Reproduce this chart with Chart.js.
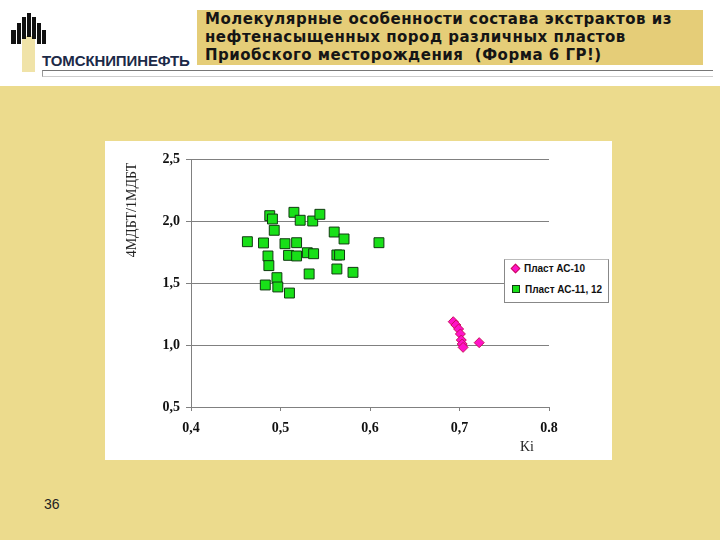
<!DOCTYPE html>
<html>
<head>
<meta charset="utf-8">
<script src="https://cdn.jsdelivr.net/npm/chart.js@4/dist/chart.umd.min.js"></script>
<style>
  body { margin: 0; width: 720px; height: 540px; background: #ecdb8d; position: relative; overflow: hidden; font-family: "Liberation Sans", Arial, sans-serif; }
  #header { position: absolute; left: 0; top: 0; width: 720px; height: 86px; background: #fff; }
  .bar { position: absolute; background: #111; }
  #logoText { position: absolute; left: 42px; top: 52px; font-size: 15px; font-weight: bold; color: #1c2a48; letter-spacing: -0.1px; }
  #rule { position: absolute; left: 42px; top: 70px; width: 670px; height: 5px; border-top: 1px solid #777; border-left: 1px solid #999; border-bottom: 1px solid #ccc; }
  #title { position: absolute; left: 197px; top: 10px; width: 506px; height: 55px; background: #e5cd78; }
  #title div { position: absolute; left: 8px; font-family: "DejaVu Sans", sans-serif; font-size: 15px; font-weight: bold; color: #151515; white-space: nowrap; letter-spacing: 0.5px; }
  #box { position: absolute; left: 105px; top: 141px; width: 507px; height: 319px; background: #fff; }
  #legend { position: absolute; left: 504px; top: 259px; width: 103px; height: 42px; background: #fff; border: 1px solid #888; border-top-color: #bbb; font-size: 10px; font-weight: bold; color: #111; }
  .item { position: absolute; left: 7px; white-space: nowrap; }
  .mk { display: inline-block; width: 6px; height: 6px; margin-right: 5px; vertical-align: 0px; }
  #page { position: absolute; left: 44px; top: 496px; font-size: 14px; color: #222; }
</style>
</head>
<body>
<div id="header">
  <div style="position:absolute;left:22px;top:36px;width:13px;height:36px;background:#f0e3a8"></div>
  <div class="bar" style="left:11px;top:30px;width:5px;height:14px"></div>
  <div class="bar" style="left:17px;top:23px;width:4px;height:21px"></div>
  <div class="bar" style="left:22px;top:17px;width:4px;height:22px"></div>
  <div class="bar" style="left:27px;top:13px;width:4px;height:24px"></div>
  <div class="bar" style="left:32px;top:17px;width:4px;height:22px"></div>
  <div class="bar" style="left:37px;top:23px;width:4px;height:21px"></div>
  <div class="bar" style="left:42px;top:30px;width:4px;height:14px"></div>
  <div id="logoText">ТОМСКНИПИНЕФТЬ</div>
  <div id="rule"></div>
  <div id="title">
    <div style="top:0px">Молекулярные особенности состава экстрактов из</div>
    <div style="top:18px">нефтенасыщенных пород различных пластов</div>
    <div style="top:36px">Приобского месторождения&nbsp; (Форма 6 ГР!)</div>
  </div>
</div>
<div id="box"><canvas id="chart" width="507" height="319"></canvas></div>
<div id="legend"></div>
<div id="page">36</div>
<script>
// Пласт АС-10 (Ki, 4МДБТ/1МДБТ)
const ac10X = [0.693, 0.696, 0.699, 0.701, 0.702, 0.703, 0.704, 0.722];
const ac10Y = [1.188, 1.161, 1.129, 1.089, 1.040, 1.008, 0.981, 1.019];

// Пласт АС-11, 12
const ac1112X = [0.488, 0.491, 0.515, 0.522, 0.536, 0.544, 0.493, 0.560, 0.571, 0.463,
                 0.481, 0.505, 0.518, 0.610, 0.486, 0.509, 0.518, 0.530, 0.537, 0.563,
                 0.566, 0.487, 0.563, 0.581, 0.532, 0.496, 0.483, 0.497, 0.510];
const ac1112Y = [2.043, 2.016, 2.070, 2.006, 2.000, 2.054, 1.925, 1.911, 1.855, 1.833,
                 1.823, 1.817, 1.825, 1.825, 1.718, 1.723, 1.718, 1.744, 1.736, 1.726,
                 1.726, 1.640, 1.613, 1.586, 1.573, 1.543, 1.484, 1.468, 1.419];

const seriesNames = ['Пласт АС-10', 'Пласт АС-11, 12'];
const xTickLabels = ['0,4', '0,5', '0,6', '0,7', '0.8'];
const yTickLabels = ['0,5', '1,0', '1,5', '2,0', '2,5'];
const xTitle = 'Ki';
const yTitle = '4МДБТ/1МДБТ';

function toPoints(xs, ys) {
  return xs.map((x, i) => ({ x: x, y: ys[i] }));
}

const axisTitles = {
  id: 'axisTitles',
  afterDraw(chart) {
    const ctx = chart.ctx;
    const a = chart.chartArea;
    ctx.save();
    ctx.fillStyle = '#222';
    ctx.font = '14px "Liberation Serif", "Times New Roman", serif';
    ctx.textAlign = 'center';
    ctx.textBaseline = 'middle';
    ctx.fillText(xTitle, a.right - 22, a.bottom + 40);
    ctx.translate(a.left - 59, a.top + 51);
    ctx.rotate(-Math.PI / 2);
    ctx.fillText(yTitle, 0, 0);
    ctx.restore();
  }
};

const tickFont = { family: '"Liberation Serif", "Times New Roman", serif', size: 14, weight: 'bold' };

const chart = new Chart(document.getElementById('chart').getContext('2d'), {
  type: 'scatter',
  data: {
    datasets: [{
      label: seriesNames[0],
      data: toPoints(ac10X, ac10Y),
      pointStyle: 'rectRot',
      pointRadius: 5,
      backgroundColor: '#ff12c8',
      borderColor: '#c8105a',
      borderWidth: 1
    }, {
      label: seriesNames[1],
      data: toPoints(ac1112X, ac1112Y),
      pointStyle: 'rect',
      pointRadius: 7,
      backgroundColor: '#18e018',
      borderColor: '#103a10',
      borderWidth: 1
    }]
  },
  options: {
    responsive: false,
    animation: false,
    layout: { padding: { top: 18, right: 63, left: 0, bottom: 0 } },
    plugins: { legend: { display: false }, tooltip: { enabled: false } },
    scales: {
      x: {
        type: 'linear', min: 0.4, max: 0.8,
        afterFit(s) { s.height = 53; },
        ticks: { stepSize: 0.1, padding: 9, color: '#111', font: tickFont,
                 callback: (v, i) => xTickLabels[i] },
        grid: { drawOnChartArea: false, drawTicks: true, tickLength: 4, color: '#808080' },
        border: { color: '#808080' }
      },
      y: {
        type: 'linear', min: 0.5, max: 2.5,
        afterFit(s) { s.width = 86; },
        ticks: { stepSize: 0.5, padding: 6, color: '#111', font: tickFont,
                 callback: (v, i) => yTickLabels[i] },
        grid: { color: '#808080', tickLength: 5 },
        border: { color: '#808080' }
      }
    }
  },
  plugins: [axisTitles]
});

// legend built from the chart datasets
const legend = document.getElementById('legend');
chart.data.datasets.forEach((ds, i) => {
  const item = document.createElement('div');
  item.className = 'item';
  item.style.top = (i === 0 ? 3 : 24) + 'px';
  const mk = document.createElement('span');
  mk.className = 'mk';
  mk.style.background = ds.backgroundColor;
  mk.style.border = '1px solid ' + ds.borderColor;
  mk.style.width = mk.style.height = (i === 0 ? 5 : 6) + 'px';
  if (ds.pointStyle === 'rectRot') mk.style.transform = 'rotate(45deg)';
  item.appendChild(mk);
  item.appendChild(document.createTextNode(ds.label));
  legend.appendChild(item);
});
</script>
</body>
</html>
